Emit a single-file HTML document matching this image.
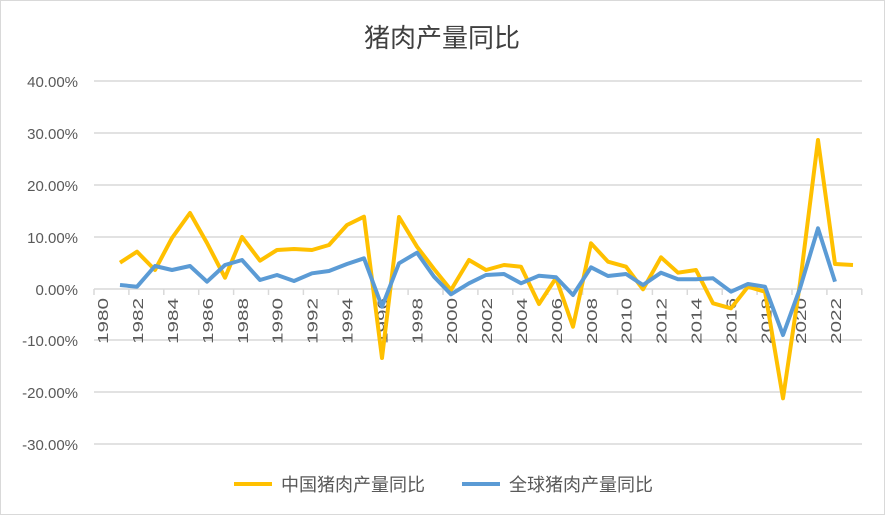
<!DOCTYPE html>
<html><head><meta charset="utf-8"><style>
body{margin:0;background:#fff}
svg{display:block;font-family:"Liberation Sans","Noto Sans CJK SC",sans-serif}
</style></head><body>
<svg width="885" height="515" viewBox="0 0 885 515">
<rect x="0.5" y="0.5" width="884" height="514" fill="#fff" stroke="#d9d9d9"/>
<text x="442" y="47" text-anchor="middle" font-size="26" fill="#404040">猪肉产量同比</text>
<g stroke="#d9d9d9" stroke-width="1.5">
<line x1="94" x2="862" y1="81" y2="81"/><line x1="94" x2="862" y1="133" y2="133"/>
<line x1="94" x2="862" y1="185" y2="185"/><line x1="94" x2="862" y1="237" y2="237"/>
<line x1="94" x2="862" y1="340" y2="340"/><line x1="94" x2="862" y1="392" y2="392"/>
<line x1="94" x2="862" y1="444" y2="444"/>
<line x1="94" x2="862" y1="289" y2="289"/>
</g>
<g stroke="#d9d9d9" stroke-width="1.5" id="ticks"></g>
<g font-size="15" fill="#595959" text-anchor="end">
<text x="78" y="87">40.00%</text><text x="78" y="139">30.00%</text>
<text x="78" y="191">20.00%</text><text x="78" y="243">10.00%</text>
<text x="78" y="295">0.00%</text><text x="78" y="346">-10.00%</text>
<text x="78" y="398">-20.00%</text><text x="78" y="450">-30.00%</text>
</g>
<g id="xl" font-size="15" fill="#595959"></g>
<polyline fill="none" stroke="#ffc000" stroke-width="4" stroke-linejoin="round" points="120,262.7 137,251.7 155,270 172,238 190,213 207,243 225,277.7 242,237 260,260.7 277,250 294,249 312,250 329,245 347,225 364,216.7 382,358 399,217 417,246.7 434,269 451,290 469,260 486,270 504,265 521,266.7 539,304 556,278 573,326.7 591,243.3 608,261.7 626,266.7 643,289.3 661,257.3 678,272.7 696,270 713,303.3 731,308.3 748,286.7 765,291.7 783,398.3 800,283.3 818,140 835,264 853,265"/>
<polyline fill="none" stroke="#5b9bd5" stroke-width="4" stroke-linejoin="round" points="120,285 137,286.7 155,266 172,270 190,266 207,281.7 225,265 242,260 260,280 277,275 294,281 312,273.3 329,271 347,264 364,258.3 382,306.7 399,263.3 417,252.7 434,276.7 451,294.3 469,283.3 486,275 504,274 521,283.3 539,275.7 556,277.3 573,295 591,267.3 608,276 626,274 643,285 661,272.7 678,279.3 696,279.3 713,278.3 731,291.7 748,284 765,286.7 783,335 800,288.3 818,228.3 835,281.7"/>
<line x1="234" x2="272" y1="484" y2="484" stroke="#ffc000" stroke-width="4"/>
<text x="281" y="491" font-size="18" fill="#595959">中国猪肉产量同比</text>
<line x1="462" x2="500" y1="484" y2="484" stroke="#5b9bd5" stroke-width="4"/>
<text x="509" y="491" font-size="18" fill="#595959">全球猪肉产量同比</text>
<script>
var t=document.getElementById('ticks'),xl=document.getElementById('xl'),ns='http://www.w3.org/2000/svg';
for(var i=0;i<=22;i++){var x=94+i*34.9;var l=document.createElementNS(ns,'line');l.setAttribute('x1',x);l.setAttribute('x2',x);l.setAttribute('y1',289);l.setAttribute('y2',295);t.appendChild(l);}
for(var y=1980;y<=2022;y+=2){var x=102.7+(y-1980)*17.45+5.5;var e=document.createElementNS(ns,'text');e.setAttribute('transform','translate('+x+',298) rotate(-90)');e.setAttribute('text-anchor','end');e.setAttribute('textLength','46');e.setAttribute('lengthAdjust','spacingAndGlyphs');e.textContent=y;xl.appendChild(e);}
</script>
</svg>
</body></html>
